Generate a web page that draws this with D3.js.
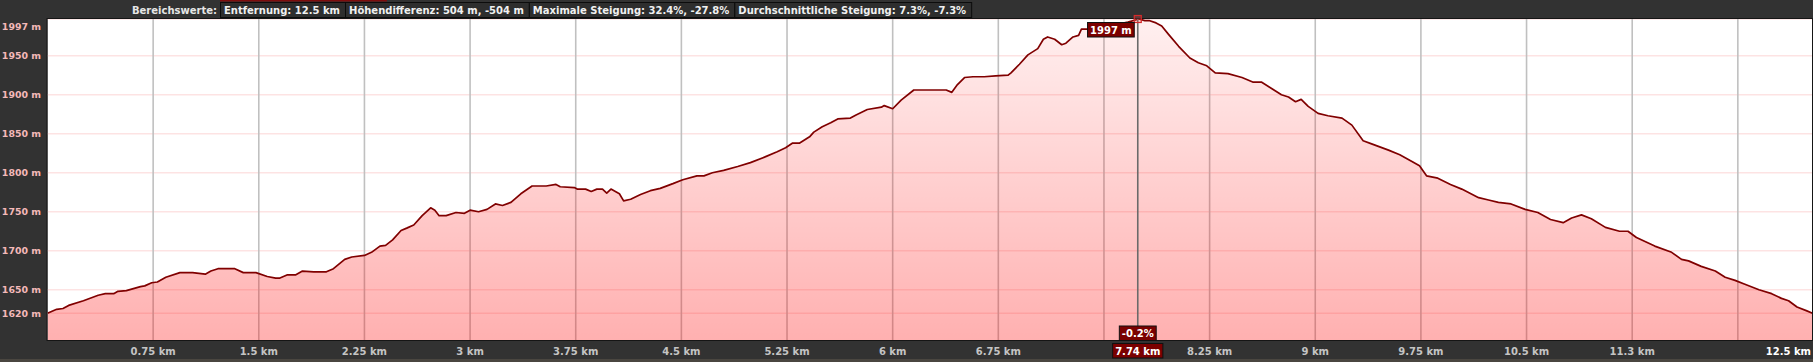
<!DOCTYPE html>
<html>
<head>
<meta charset="utf-8">
<script src="https://cdn.jsdelivr.net/npm/d3@7"></script>
<style>
  html, body { margin: 0; padding: 0; background: #323232; }
  svg { display: block; }
  text { font-family: "DejaVu Sans", Verdana, sans-serif; font-weight: bold; }
</style>
</head>
<body>
<div id="chart"></div>
<script>
// profile samples (km / m)
const distanceKm = [0.00, 0.065, 0.11, 0.15, 0.255, 0.36, 0.41, 0.47, 0.50, 0.56, 0.66, 0.69, 0.74, 0.78, 0.84, 0.94, 1.03, 1.12, 1.16, 1.21, 1.33, 1.39, 1.48, 1.56, 1.62, 1.65, 1.70, 1.76, 1.81, 1.89, 1.98, 2.03, 2.11, 2.16, 2.25, 2.30, 2.36, 2.40, 2.45, 2.51, 2.55, 2.60, 2.66, 2.72, 2.75, 2.78, 2.83, 2.90, 2.96, 3.00, 3.06, 3.12, 3.18, 3.23, 3.29, 3.36, 3.44, 3.54, 3.61, 3.64, 3.74, 3.76, 3.82, 3.86, 3.90, 3.94, 3.97, 4.00, 4.06, 4.09, 4.14, 4.21, 4.28, 4.35, 4.44, 4.51, 4.61, 4.66, 4.72, 4.80, 4.90, 4.99, 5.09, 5.18, 5.24, 5.29, 5.34, 5.41, 5.44, 5.50, 5.56, 5.61, 5.70, 5.74, 5.82, 5.92, 5.94, 6.00, 6.06, 6.15, 6.21, 6.38, 6.42, 6.46, 6.51, 6.57, 6.65, 6.73, 6.82, 6.84, 6.90, 6.96, 7.03, 7.07, 7.10, 7.15, 7.20, 7.23, 7.28, 7.32, 7.34, 7.39, 7.45, 7.55, 7.62, 7.67, 7.73, 7.75, 7.79, 7.82, 7.87, 7.91, 7.96, 8.03, 8.11, 8.17, 8.23, 8.29, 8.38, 8.48, 8.56, 8.62, 8.69, 8.76, 8.81, 8.86, 8.90, 8.95, 9.02, 9.09, 9.19, 9.26, 9.34, 9.40, 9.52, 9.60, 9.68, 9.74, 9.79, 9.87, 9.96, 10.04, 10.16, 10.23, 10.30, 10.39, 10.49, 10.58, 10.67, 10.76, 10.82, 10.89, 10.96, 11.06, 11.16, 11.22, 11.28, 11.41, 11.53, 11.60, 11.65, 11.74, 11.84, 11.91, 11.98, 12.05, 12.15, 12.24, 12.31, 12.36, 12.42, 12.49, 12.53];
const elevationM = [1620, 1625, 1626, 1630, 1636, 1643, 1645, 1645, 1648, 1649, 1654, 1655, 1659, 1660, 1666, 1672, 1672, 1670, 1674, 1677, 1677, 1672, 1672, 1667, 1665, 1665, 1669, 1669, 1674, 1673, 1673, 1677, 1689, 1692, 1694, 1698, 1706, 1707, 1714, 1726, 1729, 1733, 1745, 1755, 1752, 1745, 1745, 1749, 1748, 1752, 1750, 1753, 1760, 1758, 1762, 1773, 1783, 1783, 1785, 1782, 1781, 1779, 1779, 1776, 1779, 1779, 1774, 1779, 1773, 1764, 1766, 1772, 1777, 1780, 1786, 1791, 1796, 1796, 1800, 1803, 1808, 1813, 1820, 1827, 1832, 1838, 1838, 1846, 1852, 1859, 1864, 1869, 1870, 1874, 1881, 1884, 1886, 1882, 1893, 1906, 1906, 1906, 1903, 1913, 1922, 1923, 1923, 1924, 1925, 1928, 1939, 1951, 1959, 1971, 1974, 1971, 1964, 1966, 1974, 1976, 1984, 1984, 1986, 1988, 1991, 1993, 1996, 1997, 1995, 1995, 1992, 1988, 1977, 1962, 1947, 1941, 1937, 1928, 1927, 1922, 1916, 1916, 1908, 1900, 1897, 1891, 1894, 1885, 1876, 1873, 1870, 1861, 1841, 1837, 1829, 1823, 1815, 1809, 1796, 1793, 1785, 1779, 1768, 1765, 1762, 1760, 1753, 1749, 1740, 1736, 1742, 1746, 1741, 1730, 1725, 1725, 1717, 1706, 1698, 1689, 1687, 1680, 1674, 1666, 1662, 1657, 1650, 1645, 1639, 1636, 1628, 1623, 1620];

const xTickValues = [0.75, 1.5, 2.25, 3, 3.75, 4.5, 5.25, 6, 6.75, 7.5, 8.25, 9, 9.75, 10.5, 11.25, 12];
const xTickLabels = ['0.75 km', '1.5 km', '2.25 km', '3 km', '3.75 km', '4.5 km', '5.25 km', '6 km', '6.75 km', '7.5 km', '8.25 km', '9 km', '9.75 km', '10.5 km', '11.3 km', '12 km'];
const yTickValues = [1620, 1650, 1700, 1750, 1800, 1850, 1900, 1950, 1997];
const yTickLabels = ['1620 m', '1650 m', '1700 m', '1750 m', '1800 m', '1850 m', '1900 m', '1950 m', '1997 m'];

const headerLabel = 'Bereichswerte:';
const headerValues = ['Entfernung: 12.5 km', 'Höhendifferenz: 504 m, -504 m', 'Maximale Steigung: 32.4%, -27.8%', 'Durchschnittliche Steigung: 7.3%, -7.3%'];
const totalKm = 12.53;
const endLabel = '12.5 km';

// cursor readout
const cursorKm = 7.74;
const cursorElev = 1997;
const cursorText = '1997 m';
const cursorGrade = '-0.2%';
const cursorKmText = '7.74 km';

const width = 1813, height = 362;
const margin = { top: 19, right: 0.5, bottom: 21.5, left: 47.5 };
const plotW = width - margin.left - margin.right;
const plotH = height - margin.top - margin.bottom;
const fontSize = '10px';

const svg = d3.select('#chart').append('svg').attr('width', width).attr('height', height);

svg.append('rect').attr('width', width).attr('height', height).attr('fill', '#323232');
// bit of the page below
svg.append('rect').attr('y', 359).attr('width', width).attr('height', 3).attr('fill', '#4a4640');
// tab edge above the header
svg.append('rect').attr('x', 220).attr('width', 167).attr('height', 1.5).attr('fill', '#7d0c0c');

const xScale = d3.scaleLinear().domain([0, totalKm]).range([margin.left, margin.left + plotW]);
const yScale = d3.scaleLinear().domain([1585, 1997]).range([margin.top + plotH, margin.top]);

const defs = svg.append('defs');
const grad = defs.append('linearGradient').attr('id', 'fillGrad')
  .attr('gradientUnits', 'userSpaceOnUse')
  .attr('x1', 0).attr('x2', 0).attr('y1', margin.top).attr('y2', margin.top + plotH);
grad.append('stop').attr('offset', 0).attr('stop-color', '#ff0000').attr('stop-opacity', 0.06);
grad.append('stop').attr('offset', 1).attr('stop-color', '#ff0000').attr('stop-opacity', 0.31);

defs.append('clipPath').attr('id', 'plotClip').append('rect')
  .attr('x', margin.left).attr('y', margin.top).attr('width', plotW).attr('height', plotH);

// plot background
svg.append('rect')
  .attr('x', margin.left).attr('y', margin.top)
  .attr('width', plotW).attr('height', plotH)
  .attr('fill', '#ffffff');

// grid
const grid = svg.append('g').attr('clip-path', 'url(#plotClip)');
grid.selectAll('.hgrid').data(yTickValues).enter().append('line')
  .attr('class', 'hgrid')
  .attr('x1', margin.left).attr('x2', margin.left + plotW)
  .attr('y1', d => yScale(d)).attr('y2', d => yScale(d))
  .attr('stroke', '#fde3e3').attr('stroke-width', 1.6);
grid.selectAll('.vgrid').data(xTickValues).enter().append('line')
  .attr('class', 'vgrid')
  .attr('x1', d => xScale(d)).attr('x2', d => xScale(d))
  .attr('y1', margin.top).attr('y2', margin.top + plotH)
  .attr('stroke', '#c0c0c0').attr('stroke-width', 1.6);

const profile = distanceKm.map((d, i) => ({ km: d, ele: elevationM[i] }));

const area = d3.area()
  .x(d => xScale(d.km))
  .y0(margin.top + plotH)
  .y1(d => yScale(d.ele));
const line = d3.line()
  .x(d => xScale(d.km))
  .y(d => yScale(d.ele));

const plot = svg.append('g').attr('clip-path', 'url(#plotClip)');
plot.append('path').datum(profile).attr('d', area).attr('fill', 'url(#fillGrad)');
plot.append('path').datum(profile).attr('d', line)
  .attr('fill', 'none').attr('stroke', '#800000').attr('stroke-width', 1.7)
  .attr('stroke-linejoin', 'round');

// frame
svg.append('rect')
  .attr('x', margin.left - 0.5).attr('y', margin.top - 0.5)
  .attr('width', plotW + 0.5).attr('height', plotH + 0.5)
  .attr('fill', 'none').attr('stroke', '#151515').attr('stroke-width', 1);

// y labels
svg.selectAll('.ylab').data(yTickValues).enter().append('text')
  .attr('class', 'ylab')
  .attr('x', 41)
  .attr('y', d => Math.max(yScale(d), 26) + 3.5)
  .attr('text-anchor', 'end')
  .style('font-size', '9.4px')
  .style('fill', '#f4b9b9')
  .text((d, i) => yTickLabels[i]);

// x labels - skipped where the cursor box or end label sits
const cx = xScale(cursorKm);
svg.selectAll('.xlab').data(xTickValues).enter().append('text')
  .attr('class', 'xlab')
  .attr('x', d => xScale(d))
  .attr('y', 355)
  .attr('text-anchor', 'middle')
  .style('font-size', fontSize)
  .style('fill', '#c4c4c4')
  .style('display', d => (Math.abs(xScale(d) - cx) < 50 || xScale(d) > width - 100) ? 'none' : null)
  .text((d, i) => xTickLabels[i]);

svg.append('text')
  .attr('x', width - 2).attr('y', 355)
  .attr('text-anchor', 'end')
  .style('font-size', fontSize).style('fill', '#ffffff')
  .text(endLabel);

// header
svg.append('text')
  .attr('x', 217).attr('y', 14)
  .attr('text-anchor', 'end')
  .style('font-size', fontSize).style('fill', '#e6e6e6')
  .text(headerLabel);

let hx = 220;
headerValues.forEach(v => {
  const g = svg.append('g');
  const t = g.append('text')
    .attr('x', hx + 4).attr('y', 14)
    .style('font-size', fontSize).style('fill', '#f0f0f0')
    .text(v);
  const w = t.node().getComputedTextLength() + 9;
  g.insert('rect', 'text')
    .attr('x', hx + 0.5).attr('y', 2.5)
    .attr('width', w).attr('height', 15)
    .attr('fill', '#2e2e2e').attr('stroke', '#0c0c0c');
  hx += w;
});

// cursor
svg.append('line')
  .attr('x1', cx).attr('x2', cx)
  .attr('y1', margin.top).attr('y2', margin.top + plotH)
  .attr('stroke', '#6a6a6a').attr('stroke-width', 1.6);

svg.append('rect')
  .attr('x', cx - 3.5).attr('y', yScale(cursorElev) - 3.5)
  .attr('width', 7).attr('height', 7)
  .attr('fill', 'rgba(255,80,80,0.25)').attr('stroke', '#d42a2a').attr('stroke-width', 1.2);

function box(text, x, y, anchor) {
  const g = svg.append('g');
  const t = g.append('text')
    .attr('y', y + 11)
    .style('font-size', fontSize).style('fill', '#ffffff')
    .text(text);
  const w = t.node().getComputedTextLength() + 5;
  const bx = anchor === 'end' ? x - w : anchor === 'middle' ? x - w / 2 : x;
  t.attr('x', bx + 2.5);
  g.insert('rect', 'text')
    .attr('x', bx).attr('y', y)
    .attr('width', w).attr('height', 14.5)
    .attr('fill', '#7a0000').attr('stroke', '#111111');
}

box(cursorText, cx - 3.5, 22.5, 'end');
box(cursorGrade, cx, margin.top + plotH - 14.5, 'middle');
box(cursorKmText, cx, 343.5, 'middle');
</script>
</body>
</html>
